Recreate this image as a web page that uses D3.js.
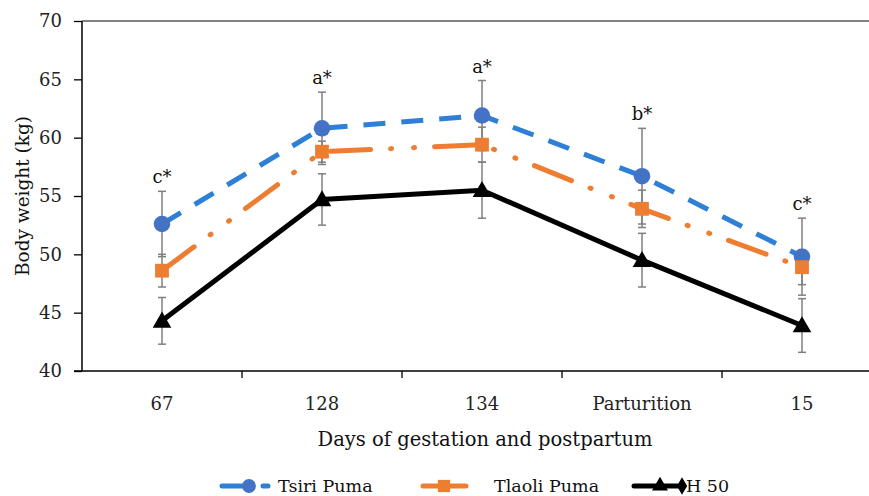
<!DOCTYPE html>
<html><head><meta charset="utf-8">
<script src="https://cdn.jsdelivr.net/npm/d3@7"></script>
<style>body{margin:0;background:#fff}svg{display:block}</style>
</head><body><svg id="c" width="869" height="496"></svg>
<script>
const categories = ["67","128","134","Parturition","15"];
const tsiri = [52.6, 60.8, 61.9, 56.7, 49.8];
const tsiriErr = [2.8, 3.1, 3.0, 4.1, 3.3];
const tlaoli = [48.6, 58.8, 59.4, 53.9, 48.9];
const tlaoliErr = [1.4, 0.9, 1.5, 1.6, 1.5];
const h50 = [44.3, 54.7, 55.5, 49.5, 43.9];
const h50Err = [2.0, 2.2, 2.4, 2.3, 2.3];
const sigLabels = ["c*","a*","a*","b*","c*"];
const yTicks = [40,45,50,55,60,65,70];
const seriesNames = ["Tsiri Puma","Tlaoli Puma","H 50"];

const serif = "'DejaVu Serif', serif";
const svg = d3.select("#c");
const x = d3.scaleBand().domain(categories).range([82, 882]).padding(0);
const y = d3.scaleLinear().domain([40,70]).range([371,21]);
const cx = c => x(c) + x.bandwidth()/2;

// top border line
svg.append("line").attr("x1",82).attr("x2",869).attr("y1",y(70)).attr("y2",y(70))
  .attr("stroke","#595959").attr("stroke-width",1.5);

// y axis
const yAxis = svg.append("g").attr("transform","translate(82,0)")
  .call(d3.axisLeft(y).tickValues(yTicks).tickSize(8).tickPadding(12).tickFormat(d3.format("d")));
yAxis.select(".domain").attr("stroke","#000").attr("stroke-width",1.5).attr("d","M0,"+y(70)+"V"+y(40));
yAxis.selectAll(".tick line").attr("stroke","#000").attr("stroke-width",1.3);
yAxis.selectAll(".tick text").attr("font-family",serif).attr("font-size",18).attr("fill","#222");

// x axis
svg.append("line").attr("x1",74).attr("x2",869).attr("y1",y(40)).attr("y2",y(40))
  .attr("stroke","#000").attr("stroke-width",1.5);
svg.selectAll(".xt").data(categories.slice(0,-1)).enter().append("line")
  .attr("x1",d=>x(d)+x.bandwidth()).attr("x2",d=>x(d)+x.bandwidth())
  .attr("y1",y(40)).attr("y2",y(40)+7).attr("stroke","#000").attr("stroke-width",1.3);
svg.selectAll(".xl").data(categories).enter().append("text")
  .attr("x",d=>cx(d)).attr("y",410).attr("text-anchor","middle")
  .attr("font-family",serif).attr("font-size",18).attr("fill","#222").text(d=>d);

// axis titles
svg.append("text").attr("x",485).attr("y",446).attr("text-anchor","middle")
  .attr("font-family",serif).attr("font-size",19.5).attr("fill","#111")
  .text("Days of gestation and postpartum");
svg.append("text").attr("transform","translate(29,196) rotate(-90)").attr("text-anchor","middle")
  .attr("font-family",serif).attr("font-size",18.5).attr("fill","#111")
  .text("Body weight (kg)");

const series = [
  {name:seriesNames[0], vals:tsiri, err:tsiriErr, line:"#2e7fd6", mark:"#4472c4", dash:"22,16", shape:"circle"},
  {name:seriesNames[1], vals:tlaoli, err:tlaoliErr, line:"#ed7d31", mark:"#ed7d31", dash:"40,20,1,22,1,20", shape:"square"},
  {name:seriesNames[2], vals:h50, err:h50Err, line:"#000", mark:"#000", dash:null, shape:"triangle"}
];

// error bars
series.forEach(s=>{
  const g = svg.append("g").attr("stroke","#7f7f7f").attr("stroke-width",1.5);
  categories.forEach((c,i)=>{
    const hi = y(s.vals[i]+s.err[i]), lo = y(s.vals[i]-s.err[i]);
    g.append("line").attr("x1",cx(c)).attr("x2",cx(c)).attr("y1",hi).attr("y2",lo);
    g.append("line").attr("x1",cx(c)-4).attr("x2",cx(c)+4).attr("y1",hi).attr("y2",hi);
    g.append("line").attr("x1",cx(c)-4).attr("x2",cx(c)+4).attr("y1",lo).attr("y2",lo);
  });
});

const line = d3.line().x((d,i)=>cx(categories[i])).y(d=>y(d));
const symbols = {circle:d3.symbolCircle, square:d3.symbolSquare, triangle:d3.symbolTriangle};
const sizes = {circle:215, square:190, triangle:150};
series.forEach(s=>{
  const p = svg.append("path").datum(s.vals).attr("d",line).attr("fill","none")
    .attr("stroke",s.line).attr("stroke-width",5);
  if (s.dash) p.attr("stroke-dasharray",s.dash).attr("stroke-linecap", s.shape==="square"?"round":"butt");
});
series.forEach(s=>{
  svg.selectAll(null).data(s.vals).enter().append("path")
    .attr("transform",(d,i)=>`translate(${cx(categories[i])},${y(d)+(s.shape==="triangle"?1.5:0)})`)
    .attr("d",d3.symbol().type(symbols[s.shape]).size(sizes[s.shape])).attr("fill",s.mark);
});

// significance labels
categories.forEach((c,i)=>{
  const top = d3.max(series, s=>s.vals[i]+s.err[i]);
  svg.append("text").attr("x",cx(c)).attr("y",y(top)-8).attr("text-anchor","middle")
    .attr("font-family",serif).attr("font-size",18).attr("fill","#111").text(sigLabels[i]);
});

// legend
const ly = 486;
const lg = svg.append("g");
// Tsiri
lg.append("line").attr("x1",222).attr("x2",248).attr("y1",ly).attr("y2",ly).attr("stroke","#2e7fd6").attr("stroke-width",5).attr("stroke-linecap","round");
lg.append("path").attr("transform",`translate(249,${ly})`).attr("d",d3.symbol().type(d3.symbolCircle).size(150)).attr("fill","#4472c4");
lg.append("line").attr("x1",263).attr("x2",268).attr("y1",ly).attr("y2",ly).attr("stroke","#2e7fd6").attr("stroke-width",5).attr("stroke-linecap","round");
lg.append("text").attr("x",278).attr("y",ly+6).attr("font-family",serif).attr("font-size",17.5).attr("fill","#111").text(seriesNames[0]);
// Tlaoli
lg.append("line").attr("x1",423).attr("x2",466).attr("y1",ly).attr("y2",ly).attr("stroke","#ed7d31").attr("stroke-width",5).attr("stroke-linecap","round");
lg.append("path").attr("transform",`translate(444,${ly})`).attr("d",d3.symbol().type(d3.symbolSquare).size(150)).attr("fill","#ed7d31");
lg.append("text").attr("x",494).attr("y",ly+6).attr("font-family",serif).attr("font-size",17.5).attr("fill","#111").text(seriesNames[1]);
// H50
lg.append("line").attr("x1",634).attr("x2",684).attr("y1",ly).attr("y2",ly).attr("stroke","#000").attr("stroke-width",5).attr("stroke-linecap","round");
lg.append("path").attr("transform",`translate(660,${ly})`).attr("d",d3.symbol().type(d3.symbolTriangle).size(110)).attr("fill","#000");
lg.append("path").attr("transform",`translate(682,${ly})`).attr("d",d3.symbol().type(d3.symbolDiamond).size(90)).attr("fill","#000");
lg.append("text").attr("x",686).attr("y",ly+6).attr("font-family",serif).attr("font-size",17.5).attr("fill","#111").text(seriesNames[2]);
</script></body></html>
